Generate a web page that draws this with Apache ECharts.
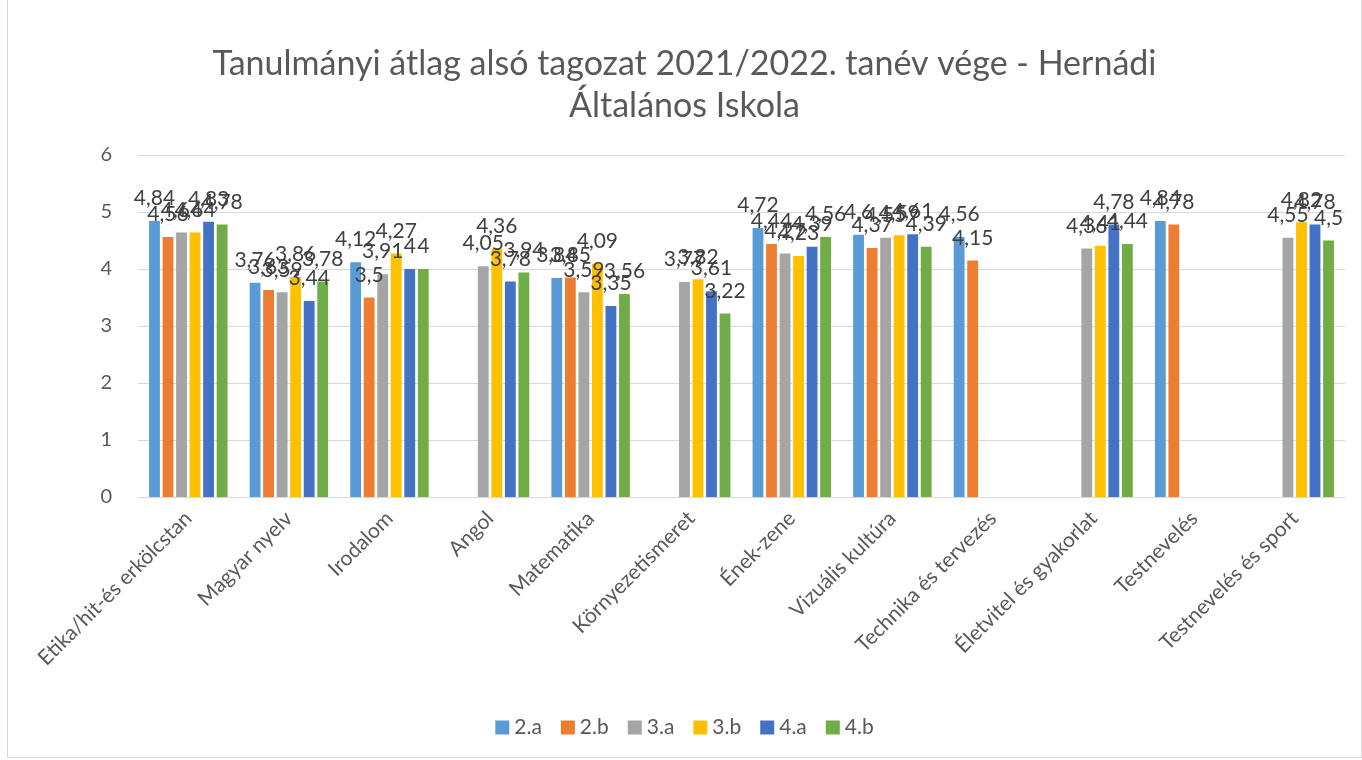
<!DOCTYPE html>
<html>
<head>
<meta charset="utf-8">
<script src="https://cdn.jsdelivr.net/npm/echarts@6/dist/echarts.min.js"></script>
<style>
  html, body { margin: 0; padding: 0; background: #fff; }
  #chart { position: absolute; left: 7px; top: 0; width: 1353px; height: 757px; border: 1px solid #d9d9d9; border-top: none; }
</style>
</head>
<body>
<div id="chart"></div>
<script>
const subjects = ['Etika/hit-és erkölcstan', 'Magyar nyelv', 'Irodalom', 'Angol', 'Matematika',
  'Környezetismeret', 'Ének-zene', 'Vizuális kultúra', 'Technika és tervezés',
  'Életvitel és gyakorlat', 'Testnevelés', 'Testnevelés és sport']

const classNames = ['2.a', '2.b', '3.a', '3.b', '4.a', '4.b']
const classColors = ['#5b9bd5', '#ed7d31', '#a5a5a5', '#ffc000', '#4472c4', '#70ad47']

// null = nincs adat
const class2a = [4.84, 3.76, 4.12, null, 3.84, null, 4.72, 4.6, 4.56, null, 4.84, null]
const class2b = [4.56, 3.63, 3.5, null, 3.85, null, 4.44, 4.37, 4.15, null, 4.78, null]
const class3a = [4.64, 3.59, 3.91, 4.05, 3.59, 3.77, 4.27, 4.55, null, 4.36, null, 4.55]
const class3b = [4.64, 3.86, 4.27, 4.36, 4.09, 3.82, 4.23, 4.59, null, 4.41, null, 4.82]
const class4a = [4.83, 3.44, 4, 3.78, 3.35, 3.61, 4.39, 4.61, null, 4.78, null, 4.78]
const class4b = [4.78, 3.78, 4, 3.94, 3.56, 3.22, 4.56, 4.39, null, 4.44, null, 4.5]

const yTicks = { min: 0, max: 6, interval: 1 }

const seriesData = [class2a, class2b, class3a, class3b, class4a, class4b]
const font = 'Lato, "Open Sans", sans-serif'

const chart = echarts.init(document.getElementById('chart'))

chart.setOption({
  animation: false,
  textStyle: { fontFamily: font },
  title: {
    text: 'Tanulmányi átlag alsó tagozat 2021/2022. tanév vége - Hernádi\nÁltalános Iskola',
    left: 'center',
    top: 38,
    textStyle: { fontFamily: font, fontSize: 34, fontWeight: 'normal', color: '#595959', lineHeight: 42 }
  },
  legend: {
    bottom: 14,
    left: 'center',
    itemWidth: 14,
    itemHeight: 14,
    itemGap: 19,
    icon: 'rect',
    textStyle: { fontFamily: font, fontSize: 21, color: '#595959' },
    data: classNames
  },
  grid: {
    left: 130,
    right: 16,
    top: 155,
    bottom: 260,
    containLabel: false
  },
  xAxis: {
    type: 'category',
    data: subjects,
    axisTick: { show: false },
    axisLine: { lineStyle: { color: '#d9d9d9' } },
    axisLabel: {
      rotate: 45,
      interval: 0,
      fontSize: 21,
      color: '#595959',
      margin: 18
    }
  },
  yAxis: {
    type: 'value',
    min: yTicks.min,
    max: yTicks.max,
    interval: yTicks.interval,
    axisLine: { show: false },
    axisTick: { show: false },
    splitLine: { lineStyle: { color: '#d9d9d9' } },
    axisLabel: { fontSize: 20, color: '#595959', margin: 26 }
  },
  series: classNames.map((name, i) => ({
    name: name,
    type: 'bar',
    data: seriesData[i],
    barGap: '25%',
    barCategoryGap: '22%',
    itemStyle: { color: classColors[i] },
    label: {
      show: true,
      position: 'top',
      distance: 12,
      fontSize: 21,
      color: '#404040',
      formatter: p => String(p.value).replace('.', ',')
    }
  }))
})
</script>
</body>
</html>
